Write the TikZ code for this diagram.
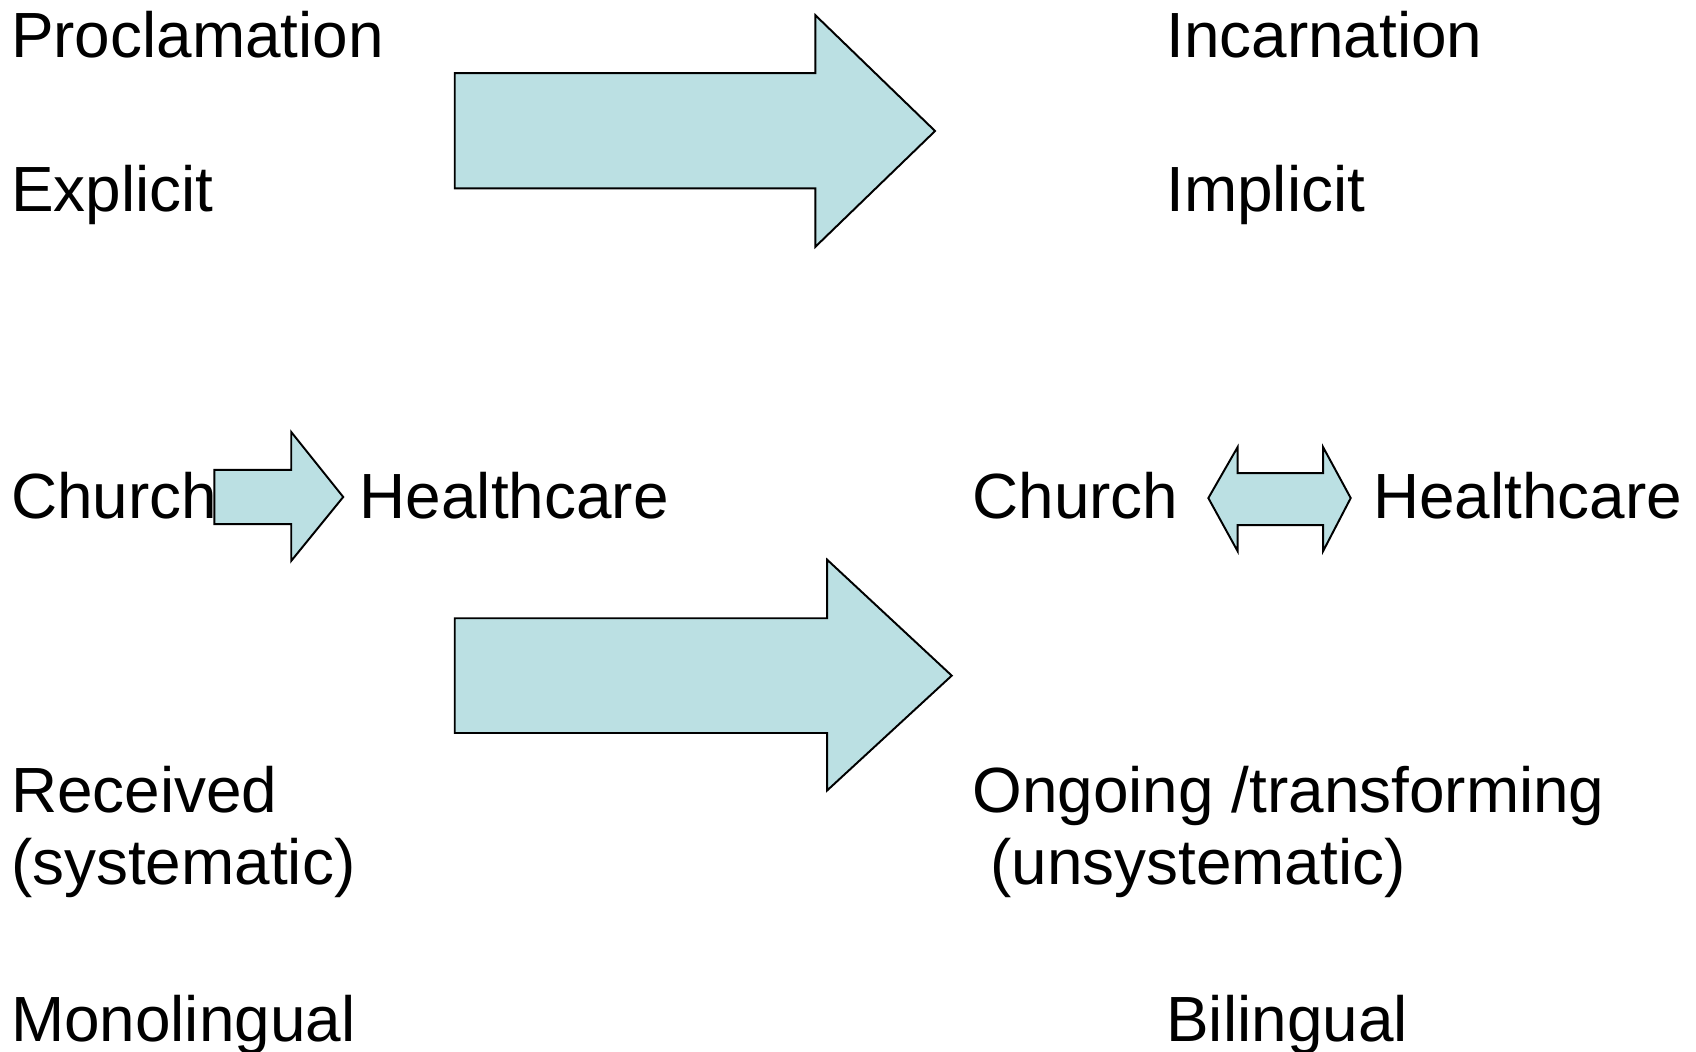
\documentclass[tikz,border=0pt]{standalone}
\usepackage{fontspec}
\setmainfont{Liberation Sans}
\definecolor{arrowfill}{RGB}{187,224,227}
\begin{document}
\begin{tikzpicture}[x=1pt,y=-1pt,
  lbl/.style={anchor=base west,inner sep=0pt,font=\fontsize{59}{71}\selectfont},
  blockarrow/.style={draw=black,line width=1.8pt,fill=arrowfill,line join=miter}]
\useasboundingbox (0,0) rectangle (1566.4,970.7);
% left column
\node[lbl] (procl) at (10,53) {Proclamation};
\node[lbl] (expl) at (10,195) {Explicit};
\node[lbl] (church1) at (10,479) {Church};
\node[lbl] (health1) at (332,479) {Healthcare};
\node[lbl] (recv) at (10,750) {Received};
\node[lbl] (syst) at (10,817) {(systematic)};
\node[lbl] (mono) at (10,962) {Monolingual};
% right column
\node[lbl] (incarn) at (1077,53) {Incarnation};
\node[lbl] (impl) at (1077,195) {Implicit};
\node[lbl] (church2) at (898,479) {Church};
\node[lbl] (health2) at (1268,479) {Healthcare};
\node[lbl] (ongo) at (898,750) {Ongoing /transforming};
\node[lbl] (unsyst) at (898,817) {\ (unsystematic)};
\node[lbl] (bi) at (1077,962) {Bilingual};
% big arrow 1
\draw[blockarrow] (420,67.5) -- (753,67.5) -- (753,14) -- (863.6,121) -- (753,228) -- (753,174) -- (420,174) -- cycle;
% small arrow
\draw[blockarrow] (198,434) -- (269,434) -- (269,399) -- (317,459) -- (269,518) -- (269,484) -- (198,484) -- cycle;
% double arrow
\draw[blockarrow] (1116,460) -- (1143,413) -- (1143,437) -- (1222,437) -- (1222,413) -- (1247.5,460) -- (1222,509) -- (1222,485) -- (1143,485) -- (1143,509) -- cycle;
% big arrow 2
\draw[blockarrow] (420,571) -- (764,571) -- (764,517) -- (879,624) -- (764,730) -- (764,677) -- (420,677) -- cycle;
\end{tikzpicture}
\end{document}
